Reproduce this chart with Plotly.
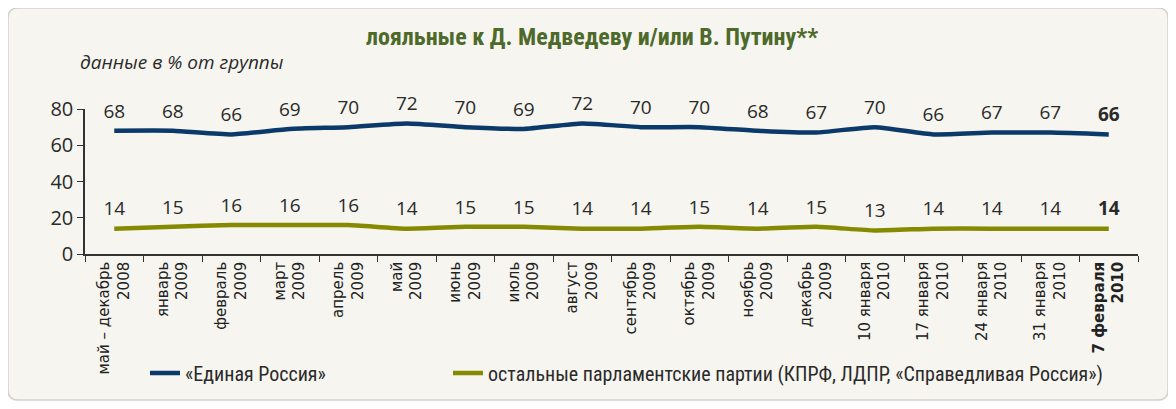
import plotly.graph_objects as go

categories = [
    "май – декабрь<br>2008", "январь<br>2009", "февраль<br>2009", "март<br>2009",
    "апрель<br>2009", "май<br>2009", "июнь<br>2009", "июль<br>2009", "август<br>2009",
    "сентябрь<br>2009", "октябрь<br>2009", "ноябрь<br>2009", "декабрь<br>2009",
    "10 января<br>2010", "17 января<br>2010", "24 января<br>2010", "31 января<br>2010",
    "<b>7 февраля<br>2010</b>",
]
edinaya_rossiya = [68, 68, 66, 69, 70, 72, 70, 69, 72, 70, 70, 68, 67, 70, 66, 67, 67, 66]
other_parties = [14, 15, 16, 16, 16, 14, 15, 15, 14, 14, 15, 14, 15, 13, 14, 14, 14, 14]
y_ticks = [0, 20, 40, 60, 80]

# the page body adds an 8px offset; work in reference pixels and subtract it
OFF = 8
W, H = 1176 - OFF, 409 - OFF
L, T = 85 - OFF, 109 - OFF
R = 1176 - 1138
B = 409 - 254
PW, PH = W - L - R, H - T - B

def px_x(px):
    return (px - OFF - L) / PW

def px_y(py):
    return (H - B - (py - OFF)) / PH

def labels(vals):
    out = [str(v) for v in vals]
    out[-1] = "<b>" + out[-1] + "</b>"
    return out

num_font = dict(family="Open Sans, Noto Sans, sans-serif", size=19, color="#2a2a2a")
narrow = "Liberation Sans Narrow, Roboto Condensed, Arial Narrow, sans-serif"
leg_font = dict(family=narrow, size=20, color="#2a2a2a")

fig = go.Figure()
fig.add_trace(go.Scatter(
    x=categories, y=edinaya_rossiya, name="«Единая Россия»",
    mode="lines+markers+text", text=labels(edinaya_rossiya), textposition="top center",
    textfont=num_font, line=dict(color="#0b3a6a", width=4.5, shape="spline", smoothing=0.5),
    marker=dict(size=12, color="rgba(0,0,0,0)"),
    cliponaxis=False, legend="legend",
))
fig.add_trace(go.Scatter(
    x=categories, y=other_parties,
    name="остальные парламентские партии (КПРФ, ЛДПР, «Справедливая Россия»)",
    mode="lines+markers+text", text=labels(other_parties), textposition="top center",
    textfont=num_font, line=dict(color="#858a00", width=4.5, shape="spline", smoothing=0.5),
    marker=dict(size=12, color="rgba(0,0,0,0)"),
    cliponaxis=False, legend="legend2",
))

# rounded background box
x0, x1 = px_x(8), px_x(1168)
y0, y1 = px_y(400), px_y(8)
rx, ry = 10 / PW, 10 / PH
path = (f"M {x0+rx},{y1} L {x1-rx},{y1} Q {x1},{y1} {x1},{y1-ry} "
        f"L {x1},{y0+ry} Q {x1},{y0} {x1-rx},{y0} L {x0+rx},{y0} "
        f"Q {x0},{y0} {x0},{y0+ry} L {x0},{y1-ry} Q {x0},{y1} {x0+rx},{y1} Z")
fig.add_shape(type="path", path=path, xref="paper", yref="paper",
              fillcolor="#f6f5ef", line=dict(color="#d2d2cc", width=1.5), layer="below")

fig.add_annotation(text="<b>лояльные к Д. Медведеву и/или В. Путину**</b>",
                   xref="paper", yref="paper", x=px_x(592), y=px_y(37),
                   xanchor="center", yanchor="middle",
                   showarrow=False, font=dict(family=narrow, size=24, color="#4d6a2a"))
fig.add_annotation(text="<i>данные в % от группы</i>",
                   xref="paper", yref="paper", x=px_x(78), y=px_y(62),
                   xanchor="left", yanchor="middle",
                   showarrow=False, font=dict(family="Open Sans, Noto Sans, sans-serif", size=19, color="#2a2a2a"))

leg_common = dict(orientation="h", xref="container", yref="container",
                  xanchor="left", yanchor="middle", font=leg_font,
                  bgcolor="rgba(0,0,0,0)", itemwidth=30)

fig.update_layout(
    width=W, height=H,
    margin=dict(l=L, r=R, t=T, b=B, autoexpand=False),
    paper_bgcolor="white", plot_bgcolor="rgba(0,0,0,0)",
    showlegend=True,
    legend=dict(x=(145 - OFF) / W, y=1 - (373 - OFF) / H, **leg_common),
    legend2=dict(x=(448 - OFF) / W, y=1 - (373 - OFF) / H, **leg_common),
    xaxis=dict(type="category", tickson="boundaries", ticks="outside", ticklen=6,
               tickcolor="#333", showline=True, linecolor="#333", linewidth=1.5,
               tickangle=-90, showgrid=False, automargin=False,
               tickfont=dict(family="DejaVu Sans, sans-serif", size=15, color="#222"),
               range=[-0.5, len(categories) - 0.5]),
    yaxis=dict(range=[0, 80], tickvals=y_ticks, ticks="outside", ticklen=6,
               tickcolor="#333", showline=True, linecolor="#333", linewidth=1.5,
               showgrid=False, zeroline=False, automargin=False,
               tickfont=dict(family="Open Sans, Noto Sans, sans-serif", size=20, color="#2a2a2a")),
)

fig.write_html("out.html")
